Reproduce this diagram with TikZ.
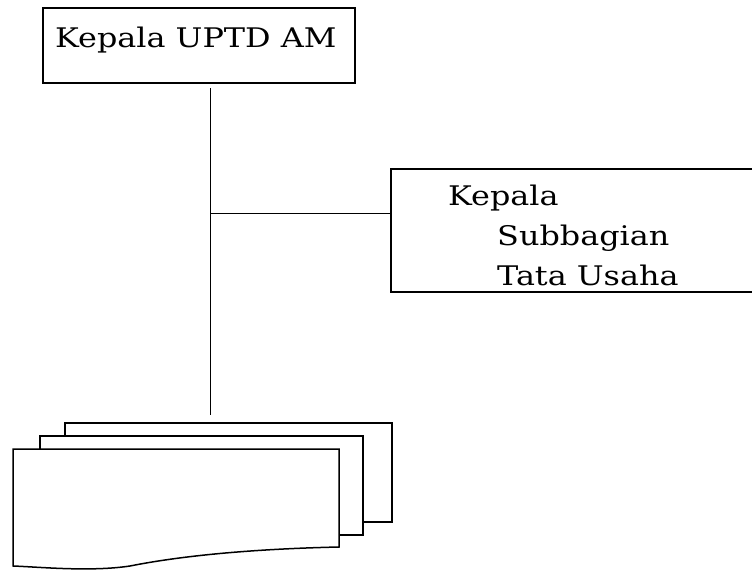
\documentclass[tikz,border=0pt]{standalone}
\usepackage{fontspec}
\setmainfont[FakeStretch=1.18]{DejaVu Serif}
\begin{document}
\begin{tikzpicture}[x=1pt,y=-1pt,
  box/.style={draw=black,line width=1.5pt,fill=white},
  conn/.style={draw=black,line width=0.9pt},
  lbl/.style={anchor=base west,inner sep=0pt,font=\fontsize{27}{31}\selectfont}]
\useasboundingbox (0,0) rectangle (752,570);
\clip (0,0) rectangle (752,570);
% top box
\draw[box] (43,8) rectangle (355,83);
\node[lbl] (top) at (55,47) {Kepala UPTD AM};
\coordinate (topb) at (210,88);
% right box
\draw[box] (391,169) rectangle (760,292);
\coordinate (rbl) at (391,213);
\node[lbl] (r1) at (448,205) {Kepala};
\node[lbl] (r2) at (497,245) {Subbagian};
\node[lbl] (r3) at (497,285) {Tata Usaha};
% connectors
\coordinate (bot) at (210,415);
\coordinate (junc) at (210,213);
\draw[conn] (topb) -- (bot);
\draw[conn] (junc) -- (rbl);
% multi-document
\draw[box] (65,423) rectangle (392,522);
\draw[box] (40,436) rectangle (363,535);
\draw[box] (13,449) -- (339,449) -- (339,547)
  .. controls (250,549) and (180,556) .. (130,566)
  .. controls (90,572) and (40,567) .. (13,566) -- cycle;
\end{tikzpicture}
\end{document}
